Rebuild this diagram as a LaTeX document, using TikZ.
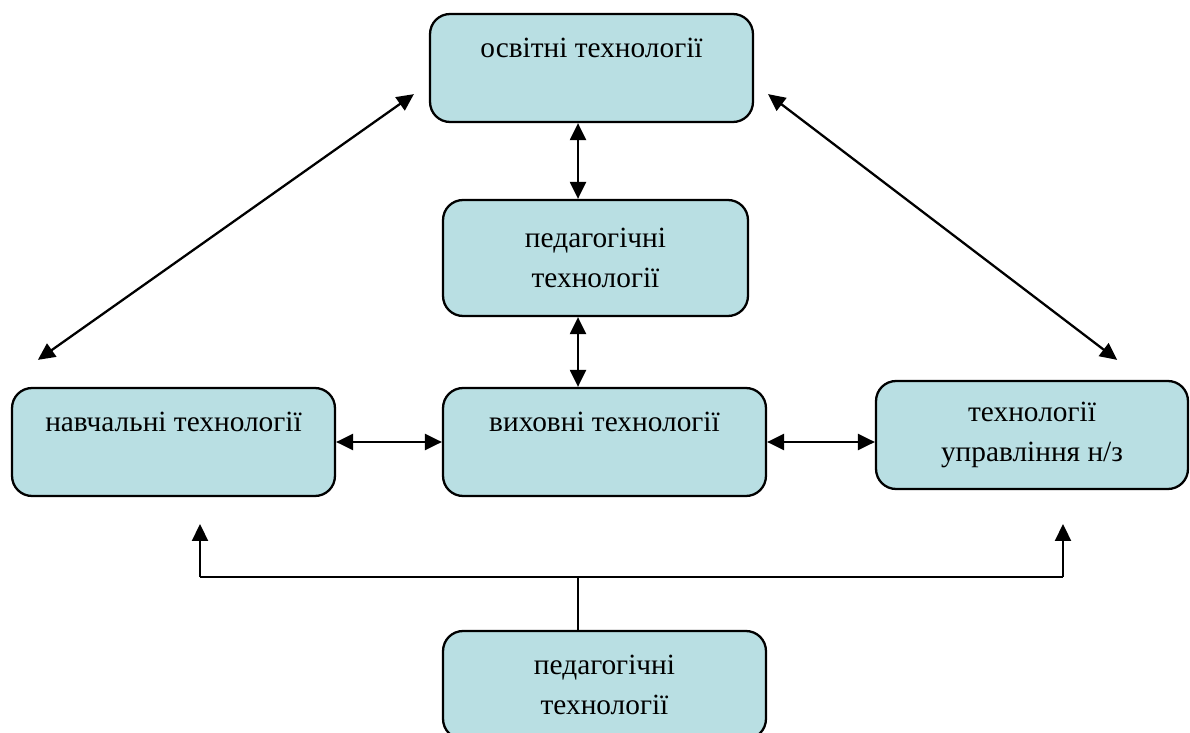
\documentclass[tikz,border=0pt]{standalone}
\usepackage{fontspec}
\setmainfont{Liberation Serif}
\usepackage{tikz}
\usetikzlibrary {arrows.meta,
                 calc,
                 positioning}
\definecolor{boxfill}{RGB}{185,223,227}
\tikzset{
        base/.style={draw, line width=1.3pt, fill=boxfill, align=center,
                     rounded corners=0.4cm, font=\fontsize{16.7}{22.8}\selectfont},
        proc/.style={base, rectangle, minimum width=6.46cm, minimum height=2.16cm},
        myarrow/.style={-{Triangle[length=0.34cm, width=0.32cm]}, line width=1.3pt},
        dblarrow/.style={{Triangle[length=0.34cm, width=0.32cm]}-{Triangle[length=0.34cm, width=0.32cm]}, line width=1.3pt},
        myline/.style={line width=1.3pt},
 }
\begin{document}
\begin{tikzpicture}[x=0.02cm, y=-0.02cm]
    \useasboundingbox (0,0) rectangle (1190,733);

    \node[proc] (osv) at (591.5,68) {освітні технології\\\phantom{технології}};
    \node[proc, minimum width=6.1cm, minimum height=2.32cm] (ped) at (595.5,258)
        {педагогічні\\технології};
    \node[proc] (nav) at (173.5,442) {навчальні технології\\\phantom{технології}};
    \node[proc] (vyh) at (604.5,442) {виховні технології\\\phantom{технології}};
    \node[proc, minimum width=6.24cm] (upr) at (1032,435)
        {технології\\управління н/з};
    \node[proc] (ped2) at (604.5,685) {педагогічні\\технології};

    \coordinate (axis) at (578,0);
    \coordinate (busL) at (200,577);
    \coordinate (busR) at (1063,577);
    \coordinate (tipL) at (200,524);
    \coordinate (tipR) at (1063,524);

    \draw[dblarrow] (osv.south -| axis) -- (ped.north -| axis);
    \draw[dblarrow] (ped.south -| axis) -- (vyh.north -| axis);
    \draw[dblarrow] (nav.east) -- (vyh.west);
    \draw[dblarrow] (vyh.east) -- (vyh.east -| upr.west);
    \draw[dblarrow] ($(osv.south west)+(-15,-29)$) -- ($(nav.north west)+(27,-27)$);
    \draw[dblarrow] ($(osv.south east)+(14,-29)$) -- ($(upr.north east)+(-72,-20)$);

    % shared line from the bottom box
    \draw[myline] (ped2.north -| axis) -- (axis |- busL);
    \draw[myarrow] (busL) -- (tipL);
    \draw[myarrow] (busR) -- (tipR);
    \draw[myline] (busL) -- (busR);
\end{tikzpicture}
\end{document}
